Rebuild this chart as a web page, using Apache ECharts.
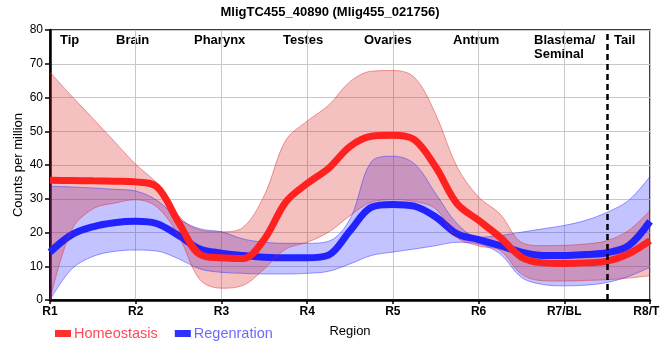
<!DOCTYPE html>
<html>
<head>
<meta charset="utf-8">
<script src="https://cdn.jsdelivr.net/npm/echarts@6/dist/echarts.min.js"></script>
<style>html,body{margin:0;padding:0;background:#fff}#c{width:660px;height:360px}</style>
</head>
<body>
<div id="c"></div>
<script>
// sample positions along the body axis (R1 = 1 ... R8 = 8)
const xPositions = ['1','1.25','1.5','1.75','2','2.25','2.5','2.75','3','3.25','3.5','3.75','4','4.25','4.5','4.75','5','5.25','5.5','5.75','6','6.25','6.5','6.75','7','7.25','7.5','7.75','8'];
const xTickLabels = ['R1','R2','R3','R4','R5','R6','R7/BL','R8/TL'];
const regionNames = ['Tip','Brain','Pharynx','Testes','Ovaries','Antrum','Blastema/','Seminal','Tail'];

const homeoMean  = [35.5,35.4,35.3,35.2,35.0,33.5,23.0,13.5,12.5,12.3,18.0,29.0,34.5,39.0,45.5,48.5,48.8,47.5,39.4,28.5,23.6,18.6,12.7,11.0,10.8,11.0,11.5,13.7,17.6];
const homeoUpper = [67.5,60.5,53.8,47.0,40.2,34.5,25.0,20.7,20.2,21.5,31.0,47.3,53.0,57.7,64.7,67.8,68.0,66.0,55.0,39.4,30.5,25.5,17.1,16.1,16.2,16.6,17.6,20.6,26.5];
const homeoLower = [0.0,20.7,27.0,28.7,29.7,27.5,19.0,6.0,3.5,4.3,9.2,15.1,17.1,20.1,25.0,29.0,29.7,29.2,27.0,18.5,16.0,14.7,7.7,5.7,5.6,5.8,6.0,6.5,7.2];

const regenMean  = [14.2,19.3,21.7,22.9,23.3,22.6,19.1,15.1,13.9,13.2,12.7,12.5,12.5,13.3,20.5,27.5,28.3,27.8,24.6,19.6,17.9,16.1,14.2,13.2,13.2,13.5,14.0,16.1,23.3];
const regenUpper = [33.7,33.5,33.2,32.8,32.3,29.5,24.0,21.1,20.2,18.1,17.1,16.8,16.8,17.4,24.0,41.0,42.6,40.4,31.5,22.6,18.6,19.1,20.1,21.1,22.1,23.6,26.0,29.5,36.6];
const regenLower = [0.0,9.1,12.9,14.4,14.8,14.5,12.2,9.2,8.2,7.9,7.7,7.7,7.9,8.5,10.7,13.2,14.2,15.1,16.1,17.1,16.6,13.7,6.7,4.6,4.2,4.4,5.2,7.0,9.7];

const diff = (u, l) => u.map((v, i) => +(v - l[i]).toFixed(2));

const FONT = '"Liberation Sans", Arial, sans-serif';
const SM = 0.35;
const STEP = 3; // show a tick / grid line every 4th sample (integer regions)

const chart = echarts.init(document.getElementById('c'), null, {renderer: 'canvas'});
chart.setOption({
  animation: false,
  title: {
    text: 'MligTC455_40890 (Mlig455_021756)',
    left: 'center', top: 1,
    textStyle: {fontFamily: FONT, fontSize: 13, fontWeight: 'bold', color: '#000'}
  },
  grid: {left: 50, right: 10, top: 30, bottom: 60, outerBoundsMode: 'none', containLabel: false,
    show: true, borderColor: '#000', borderWidth: 1.5, backgroundColor: 'transparent'},
  legend: {
    left: 50, top: 321, icon: 'rect', itemWidth: 16, itemHeight: 7, itemGap: 17,
    textStyle: {fontFamily: FONT, fontSize: 14.5, padding: [0, 0, 0, -2]},
    data: [
      {name: 'Homeostasis', textStyle: {color: '#ff4a55'}},
      {name: 'Regenration', textStyle: {color: '#6b6bff'}}
    ]
  },
  xAxis: {
    type: 'category', data: xPositions, boundaryGap: false,
    name: 'Region', nameLocation: 'middle', nameGap: 25, nameMoveOverlap: false,
    nameTextStyle: {fontFamily: FONT, fontSize: 13, color: '#000'},
    axisLine: {show: true, onZero: false, lineStyle: {color: '#000', width: 2.5}},
    axisTick: {show: true, interval: STEP, length: 4, lineStyle: {color: '#000', width: 1.5}},
    axisLabel: {interval: STEP, fontFamily: FONT, fontSize: 12, fontWeight: 'bold', color: '#000', margin: 6,
      showMaxLabel: true,
      formatter: v => xTickLabels[Math.round(parseFloat(v)) - 1] || ''},
    splitLine: {show: true, interval: STEP, lineStyle: {color: '#c8c8c8', width: 1}}
  },
  yAxis: {
    type: 'value', min: 0, max: 80, interval: 10,
    name: 'Counts per million', nameLocation: 'middle', nameGap: 25, nameMoveOverlap: false,
    nameTextStyle: {fontFamily: FONT, fontSize: 13, color: '#000'},
    axisLine: {show: true, lineStyle: {color: '#000', width: 2.5}},
    axisTick: {show: true, length: 5, lineStyle: {color: '#000', width: 1.5}},
    axisLabel: {fontFamily: FONT, fontSize: 12, color: '#000', margin: 7},
    splitLine: {show: true, lineStyle: {color: '#c8c8c8', width: 1}}
  },
  graphic: [
    {type: 'text', left: 60, top: 34, style: {text: regionNames[0], font: 'bold 13px ' + FONT, fill: '#000'}},
    {type: 'text', left: 116, top: 34, style: {text: regionNames[1], font: 'bold 13px ' + FONT, fill: '#000'}},
    {type: 'text', left: 194, top: 34, style: {text: regionNames[2], font: 'bold 13px ' + FONT, fill: '#000'}},
    {type: 'text', left: 283, top: 34, style: {text: regionNames[3], font: 'bold 13px ' + FONT, fill: '#000'}},
    {type: 'text', left: 364, top: 34, style: {text: regionNames[4], font: 'bold 13px ' + FONT, fill: '#000'}},
    {type: 'text', left: 453, top: 34, style: {text: regionNames[5], font: 'bold 13px ' + FONT, fill: '#000'}},
    {type: 'text', left: 534, top: 34, style: {text: regionNames[6], font: 'bold 13px ' + FONT, fill: '#000'}},
    {type: 'text', left: 534, top: 48, style: {text: regionNames[7], font: 'bold 13px ' + FONT, fill: '#000'}},
    {type: 'text', left: 614, top: 34, style: {text: regionNames[8], font: 'bold 13px ' + FONT, fill: '#000'}}
  ],
  series: [
    {name: 'regenLower', type: 'line', stack: 'regen', data: regenLower, smooth: SM, showSymbol: false, silent: true,
      lineStyle: {color: 'rgba(40,40,255,0.45)', width: 1}},
    {name: 'regenBand', type: 'line', stack: 'regen', data: diff(regenUpper, regenLower), smooth: SM, showSymbol: false, silent: true,
      lineStyle: {color: 'rgba(40,40,255,0.45)', width: 1},
      areaStyle: {color: 'rgba(40,40,255,0.4)'}},
    {name: 'Regenration', type: 'line', data: regenMean, smooth: SM, showSymbol: false,
      itemStyle: {color: '#3030ff'},
      lineStyle: {color: '#2222ff', width: 7, cap: 'butt'},
      markLine: {silent: true, symbol: ['none', 'none'], label: {show: false},
        lineStyle: {color: '#000', width: 2.5, type: [6, 4]},
        data: [{xAxis: '7.5'}]}},
    {name: 'homeoLower', type: 'line', stack: 'homeo', data: homeoLower, smooth: SM, showSymbol: false, silent: true,
      lineStyle: {color: 'rgba(220,40,40,0.45)', width: 1}},
    {name: 'homeoBand', type: 'line', stack: 'homeo', data: diff(homeoUpper, homeoLower), smooth: SM, showSymbol: false, silent: true,
      lineStyle: {color: 'rgba(220,40,40,0.45)', width: 1},
      areaStyle: {color: 'rgba(220,30,30,0.4)'}},
    {name: 'Homeostasis', type: 'line', data: homeoMean, smooth: SM, showSymbol: false,
      itemStyle: {color: '#ff3030'},
      lineStyle: {color: '#ff2020', width: 7, cap: 'butt'}}
  ]
});
</script>
</body>
</html>
